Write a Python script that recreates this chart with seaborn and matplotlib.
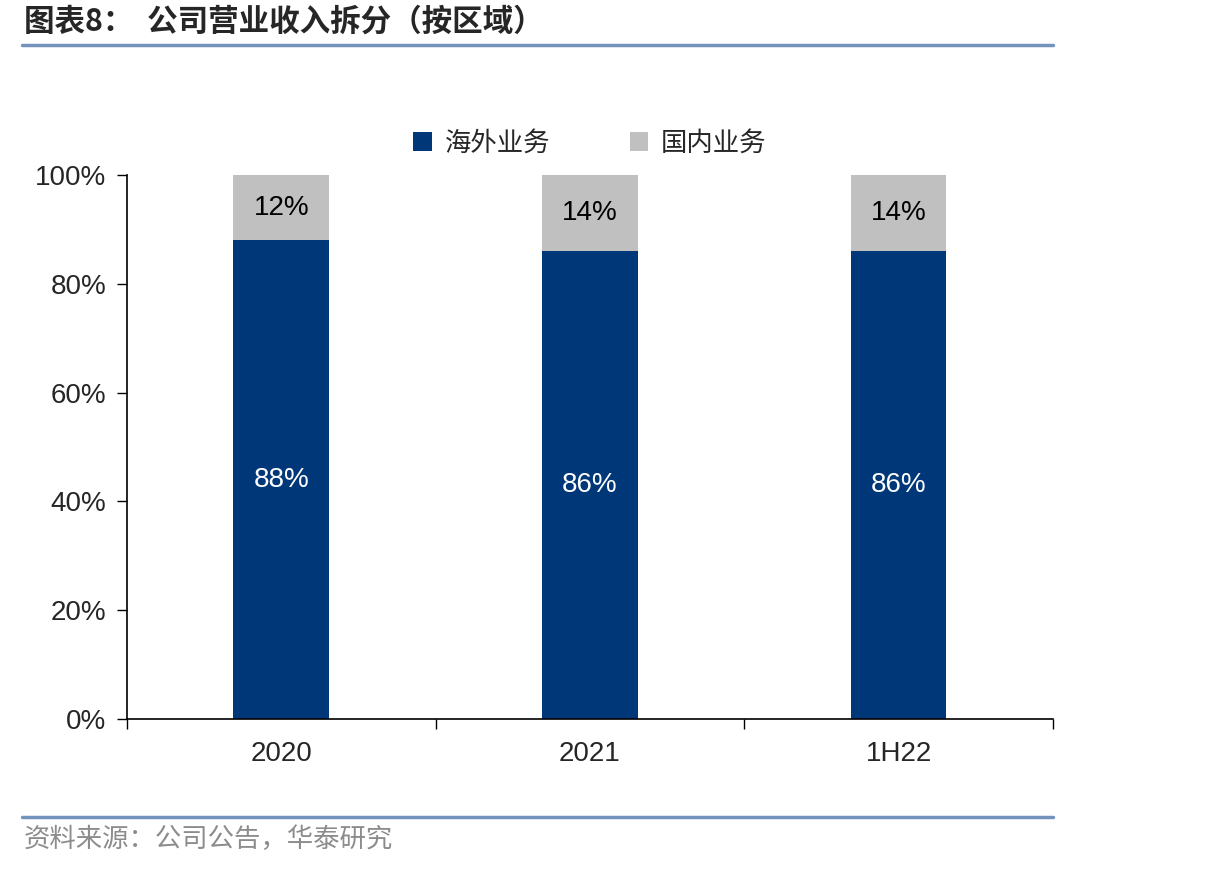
import numpy as np
import pandas as pd
import seaborn as sns
import matplotlib.pyplot as plt
from matplotlib.lines import Line2D
from matplotlib.patches import Patch

periods = ['2020', '2021', '1H22']
overseas = [88, 86, 86]
domestic = [12, 14, 14]
series_names = ['海外业务', '国内业务']
yticks = [0, 20, 40, 60, 80, 100]

sns.set_theme(style='white')
plt.rcParams['font.family'] = ['Liberation Sans', 'Noto Sans CJK SC', 'DejaVu Sans']
cjk = ['Noto Sans CJK SC', 'DejaVu Sans']

navy = '#003778'
grey = '#C0C0C0'

df = pd.DataFrame({'period': periods, 'overseas': overseas, 'domestic': domestic})
df['total'] = df['overseas'] + df['domestic']

fig = plt.figure(figsize=(12.06, 8.71), dpi=100)
ax = fig.add_axes([0.1053, 0.1745, 0.7678, 0.6245])

bw = 0.31
sns.barplot(data=df, x='period', y='total', color=grey, width=bw, ax=ax,
            saturation=1, edgecolor='none')
sns.barplot(data=df, x='period', y='overseas', color=navy, width=bw, ax=ax,
            saturation=1, edgecolor='none')

for i, (o, d) in enumerate(zip(overseas, domestic)):
    ax.text(i, o / 2, f'{o}%', ha='center', va='center', color='white', fontsize=20)
    ax.text(i, o + d / 2, f'{d}%', ha='center', va='center', color='black', fontsize=20)

ax.set_xlim(-0.5, 2.5)
ax.set_ylim(0, 100)
ax.set_yticks(yticks)
ax.set_yticklabels([f'{v}%' for v in yticks], fontsize=20)
ax.set_xticks([-0.5, 0.5, 1.5, 2.5])
ax.set_xticklabels([])
ax.set_xticks(range(len(periods)), minor=True)
ax.set_xticklabels(periods, minor=True, fontsize=20)
ax.tick_params(axis='x', which='major', direction='out', length=7, width=1, color='black', bottom=True)
ax.tick_params(axis='x', which='minor', length=0, pad=16)
ax.tick_params(axis='y', direction='out', length=7, width=1, color='black', left=True, pad=8)
ax.set_xlabel('')
ax.set_ylabel('')
for s in ['top', 'right']:
    ax.spines[s].set_visible(False)
for s in ['left', 'bottom']:
    ax.spines[s].set_color('black')
    ax.spines[s].set_linewidth(1.2)

handles = [Patch(facecolor=navy, edgecolor='none'), Patch(facecolor=grey, edgecolor='none')]
ax.legend(handles, series_names, loc='lower center', bbox_to_anchor=(0.5, 0.99), ncol=2,
          frameon=False, prop={'family': cjk, 'size': 19}, handlelength=0.7, handleheight=0.7,
          columnspacing=3.0, handletextpad=0.5)

# title and footer
fig.text(0.020, 0.975, '图表8：  公司营业收入拆分（按区域）', family=cjk, fontsize=22,
         fontweight='bold', va='center', ha='left')
fig.add_artist(Line2D([0.018, 0.873], [0.948, 0.948], color='#7393BC', lw=2.5))
fig.add_artist(Line2D([0.018, 0.873], [0.062, 0.062], color='#7393BC', lw=2.5))
fig.text(0.020, 0.036, '资料来源：公司公告，华泰研究', family=cjk, fontsize=19,
         color='#8C8C8C', va='center', ha='left')

fig.savefig('out.png', dpi=100)
